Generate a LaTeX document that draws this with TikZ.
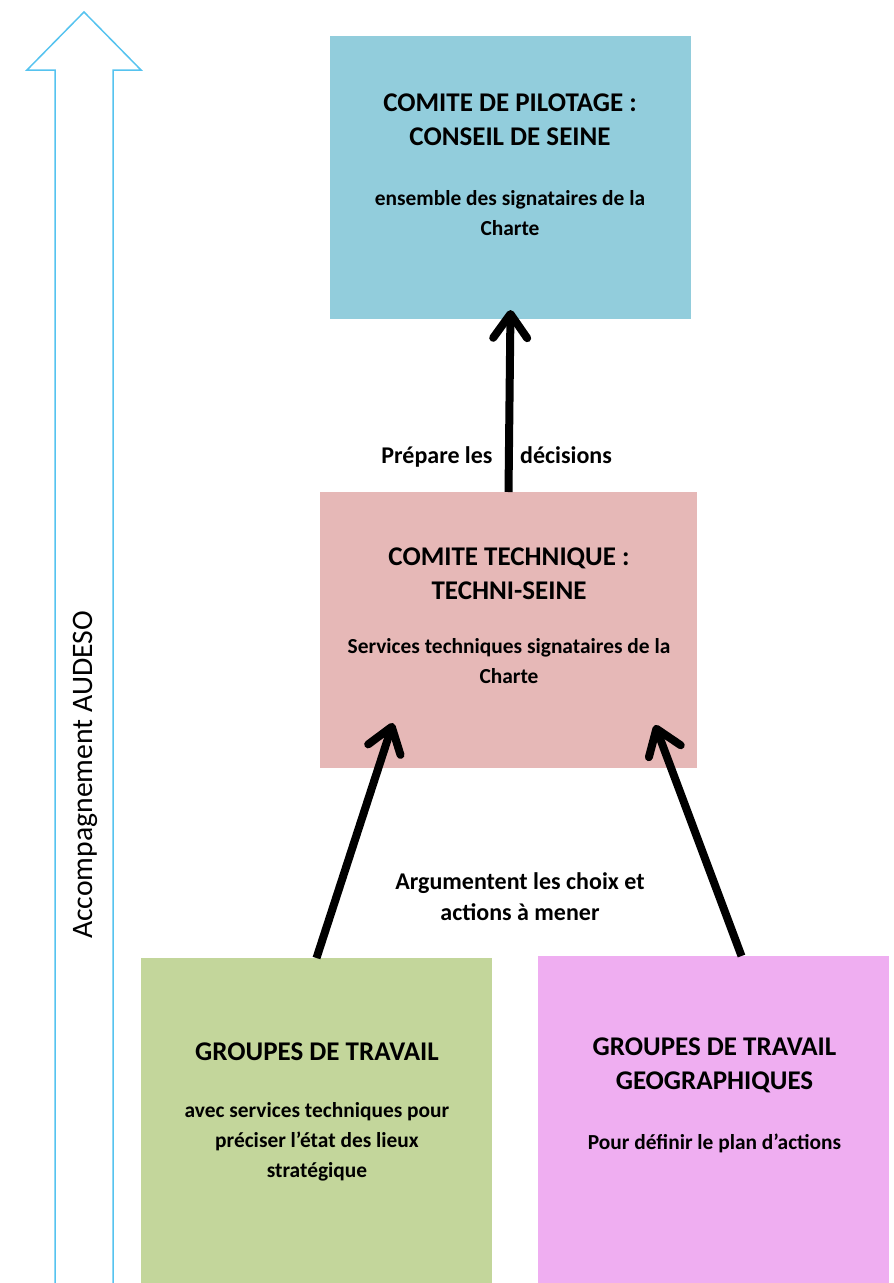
\documentclass[tikz,border=0pt]{standalone}
\usepackage{fontspec}
\setmainfont{Carlito}
\usetikzlibrary{arrows.meta}
\definecolor{pilotage}{HTML}{92CDDC}
\definecolor{technique}{HTML}{E6B8B7}
\definecolor{travail}{HTML}{C3D69B}
\definecolor{geographie}{HTML}{EFAEF1}
\definecolor{audeso}{HTML}{56C3EF}
\begin{document}
\begin{tikzpicture}[x=1pt,y=-1pt,
  boite/.style={inner sep=0pt,outer sep=0pt},
  titre/.style={font=\bfseries\fontsize{27}{34}\selectfont,align=center},
  corps/.style={font=\bfseries\fontsize{21.4}{30}\selectfont,align=center},
  etiquette/.style={font=\bfseries\fontsize{24}{31}\selectfont,align=center},
  fleche/.style={line width=8pt,-{Straight Barb[length=24pt,width=34pt,round]}}]
\useasboundingbox (0,0) rectangle (894,1283);

% Fleche AUDESO
\draw[audeso,line width=1.5pt,line join=miter] (55,1283) -- (55,70) -- (27,70) -- (84,12) -- (141,70) -- (113,70) -- (113,1283);
\node[rotate=90,font=\fontsize{29.7}{34}\selectfont] (accomp) at (85,775) {Accompagnement AUDESO};

% Boites
\node[boite,fill=pilotage,minimum width=361pt,minimum height=283pt] (pilot) at (510.5,177.5) {};
\node[boite,fill=technique,minimum width=377pt,minimum height=276pt] (tech) at (508.5,630) {};
\node[boite,fill=travail,minimum width=351pt,minimum height=325pt] (groupes) at (316.5,1120.5) {};
\node[boite,fill=geographie,minimum width=351pt,minimum height=327pt] (geo) at (713.5,1119.5) {};

% Textes
\node[titre] (pilottitre) at (510,120) {COMITE DE PILOTAGE :\\CONSEIL DE SEINE};
\node[corps] (pilotcorps) at (510,213) {ensemble des signataires de la\\Charte};
\node[titre] (techtitre) at (509,574) {COMITE TECHNIQUE :\\TECHNI-SEINE};
\node[corps] (techcorps) at (509,661) {Services techniques signataires de la\\Charte};
\node[titre] (groupestitre) at (317,1052) {GROUPES DE TRAVAIL};
\node[corps] (groupescorps) at (317,1142) {avec services techniques pour\\préciser l’état des lieux\\stratégique};
\node[titre] (geotitre) at (714.5,1065) {GROUPES DE TRAVAIL\\GEOGRAPHIQUES};
\node[corps] (geocorps) at (714.5,1143) {Pour définir le plan d’actions};

% Fleches
\coordinate (tipgauche) at (393,723);
\coordinate (tipdroite) at (655,725);
\draw[fleche] (tech.north) -- ([yshift=9pt]pilot.south);
\draw[fleche] (groupes.north) -- (tipgauche);
\draw[fleche] ([xshift=28pt]geo.north) -- (tipdroite);

% Etiquettes
\node[etiquette,anchor=base] (prepare) at (437,463) {Prépare les};
\node[etiquette,anchor=base] (decisions) at (566,463) {décisions};
\node[etiquette] (argument) at (520,897) {Argumentent les choix et\\actions à mener};
\end{tikzpicture}
\end{document}
